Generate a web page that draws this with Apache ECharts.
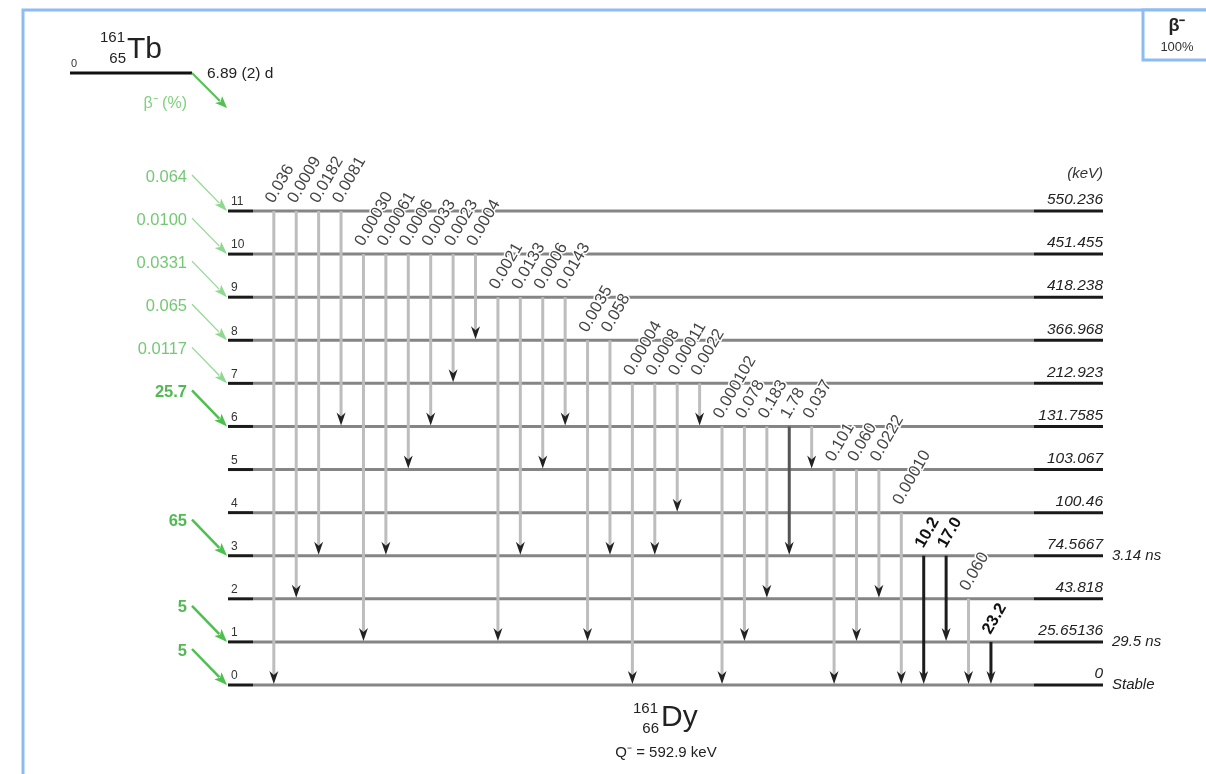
<!DOCTYPE html>
<html><head><meta charset="utf-8">
<script src="https://cdn.jsdelivr.net/npm/echarts@6/dist/echarts.min.js"></script>
<style>html,body{margin:0;padding:0;background:#fff}#c{width:1206px;height:774px}</style>
</head><body><div id="c"></div>
<script>
// ---- data ----
const levelEnergies = ['0','25.65136','43.818','74.5667','100.46','103.067','131.7585','212.923','366.968','418.238','451.455','550.236'];
const levelHalfLives = ['Stable','29.5 ns','','3.14 ns','','','','','','','',''];
const feedLevels = [11,10,9,8,7,6,3,1,0];
const feedIntensities = ['0.064','0.0100','0.0331','0.065','0.0117','25.7','65','5','5'];
const gammaFrom = [11,11,11,11,10,10,10,10,10,10,9,9,9,9,8,8,7,7,7,7,6,6,6,6,6,5,5,5,4,3,3,2,1];
const gammaTo   = [0,2,3,6,1,3,5,6,7,8,1,3,5,6,1,3,0,3,4,6,0,1,2,3,5,0,1,2,0,0,1,0,0];
const gammaIntensities = ['0.036','0.0009','0.0182','0.0081','0.00030','0.00061','0.0006','0.0033','0.0023','0.0004','0.0021','0.0133','0.0006','0.0143','0.0035','0.058','0.00004','0.0008','0.00011','0.0022','0.000102','0.078','0.183','1.78','0.037','0.101','0.060','0.0222','0.00010','10.2','17.0','0.060','23.2'];
const parentName = {A:'161', Z:'65', sym:'Tb', level:'0', halfLife:'6.89 (2) d'};
const daughterName = {A:'161', Z:'66', sym:'Dy', q:'Q⁻ = 592.9 keV'};

const FONT = '"Liberation Sans", Arial, sans-serif';
const X_MIN = -2, X_MAX = 37;
const ANG = 60 * Math.PI / 180;
const chart = echarts.init(document.getElementById('c'));

function levelItem(params, api) {
  const idx = api.value(0);
  const p0 = api.coord([X_MIN, idx]);
  const p1 = api.coord([X_MAX, idx]);
  const y = p0[1];
  return {type:'group', children:[
    {type:'line', shape:{x1:p0[0]+24, y1:y, x2:p1[0]-69, y2:y}, style:{stroke:'#858585', lineWidth:3}},
    {type:'line', shape:{x1:p0[0]-1, y1:y, x2:p0[0]+24, y2:y}, style:{stroke:'#1a1a1a', lineWidth:3}},
    {type:'line', shape:{x1:p1[0]-69, y1:y, x2:p1[0], y2:y}, style:{stroke:'#1a1a1a', lineWidth:3}},
    {type:'text', x:p0[0]+2, y:y-3, style:{text:String(idx), font:'12px '+FONT, fill:'#333', align:'left', verticalAlign:'bottom'}},
    {type:'text', x:p1[0], y:y-3, style:{text:levelEnergies[idx], font:'italic 15.5px '+FONT, fill:'#222', align:'right', verticalAlign:'bottom'}},
    {type:'text', x:p1[0]+9, y:y, style:{text:levelHalfLives[idx], font:'italic 15px '+FONT, fill:'#222', align:'left', verticalAlign:'middle'}}
  ]};
}

function gammaItem(params, api) {
  const i = api.value(0), f = api.value(1), t = api.value(2);
  const pf = api.coord([i, f]), pt = api.coord([i, t]);
  const x = pf[0];
  const v = parseFloat(gammaIntensities[i]);
  const strong = v >= 5, mid = v >= 1;
  const color = strong ? '#1c1c1c' : (mid ? '#555' : '#bdbdbd');
  const yt = pt[1] - 1;
  return {type:'group', children:[
    {type:'line', shape:{x1:x, y1:pf[1], x2:x, y2:yt-9}, style:{stroke:color, lineWidth:3}},
    {type:'polygon', shape:{points:[[x,yt],[x-4.5,yt-13],[x,yt-9],[x+4.5,yt-13]]}, style:{fill:'#222'}},
    {type:'text', x:x+3, y:pf[1]-5, rotation:ANG, z2:10,
      style:{text:gammaIntensities[i], font:(strong?'bold ':'')+'16.5px '+FONT, fill:strong?'#111':'#444',
        align:'left', verticalAlign:'bottom', stroke:'#fff', lineWidth:3}}
  ]};
}

function arrow(x1, y1, x2, y2, color, w, len, hw) {
  const dx = x2-x1, dy = y2-y1, L = Math.sqrt(dx*dx+dy*dy);
  const ux = dx/L, uy = dy/L, nx = -uy, ny = ux;
  const bx = x2-ux*len, by = y2-uy*len;
  return [
    {type:'line', shape:{x1:x1, y1:y1, x2:bx+ux*2, y2:by+uy*2}, style:{stroke:color, lineWidth:w}},
    {type:'polygon', shape:{points:[[x2,y2],[bx+nx*hw,by+ny*hw],[bx+ux*3,by+uy*3],[bx-nx*hw,by-ny*hw]]}, style:{fill:color}}
  ];
}

function feedItem(params, api) {
  const k = params.dataIndex;
  const lv = api.value(0);
  const p = api.coord([X_MIN, lv]);
  const ex = p[0]-2, ey = p[1];
  const sx = p[0]-37, sy = p[1]-36;
  const v = parseFloat(feedIntensities[k]);
  const strong = v >= 1;
  const color = strong ? '#4cc04c' : '#8fd88f';
  const ch = arrow(sx, sy, ex, ey, color, strong ? 2.5 : 1.2, 13, strong ? 5 : 4.5);
  ch.push({type:'text', x:sx-5, y:sy+2, style:{text:feedIntensities[k], font:(strong?'bold ':'')+'16.5px '+FONT,
    fill: strong ? '#52b852' : '#74c874', align:'right', verticalAlign:'middle'}});
  return {type:'group', children:ch};
}

const pArrow = arrow(192, 73, 227, 108, '#52c052', 2, 12, 5);

chart.setOption({
  animation:false,
  grid:{left:229, right:103, top:211, bottom:89},
  xAxis:{type:'value', min:X_MIN, max:X_MAX, show:false},
  yAxis:{type:'value', min:0, max:11, show:false},
  series:[
    {type:'custom', renderItem:levelItem, data:levelEnergies.map((e,i)=>[i]), z:1, silent:true},
    {type:'custom', renderItem:gammaItem, data:gammaFrom.map((f,i)=>[i, f, gammaTo[i]]), z:2, silent:true},
    {type:'custom', renderItem:feedItem, data:feedLevels.map(l=>[l]), z:3, silent:true}
  ],
  graphic:[
    {type:'rect', shape:{x:23, y:10, width:1400, height:1000}, style:{fill:'none', stroke:'#8cbcf2', lineWidth:3}},
    {type:'rect', shape:{x:1143, y:10, width:90, height:50}, style:{fill:'#fff', stroke:'#8cbcf2', lineWidth:3}},
    {type:'text', x:1177, y:26, style:{text:'β⁻', font:'bold 18px '+FONT, fill:'#222', align:'center', verticalAlign:'middle'}},
    {type:'text', x:1177, y:47, style:{text:'100%', font:'13px '+FONT, fill:'#333', align:'center', verticalAlign:'middle'}},
    {type:'text', x:1103, y:174, style:{text:'(keV)', font:'italic 15px '+FONT, fill:'#333', align:'right', verticalAlign:'middle'}},
    // parent
    {type:'line', shape:{x1:70, y1:73, x2:192, y2:73}, style:{stroke:'#111', lineWidth:3}},
    {type:'text', x:71, y:64, style:{text:parentName.level, font:'11px '+FONT, fill:'#333', align:'left', verticalAlign:'middle'}},
    {type:'text', x:125, y:38, style:{text:parentName.A, font:'15px '+FONT, fill:'#222', align:'right', verticalAlign:'middle'}},
    {type:'text', x:126, y:59, style:{text:parentName.Z, font:'15px '+FONT, fill:'#222', align:'right', verticalAlign:'middle'}},
    {type:'text', x:127, y:50, style:{text:parentName.sym, font:'30px '+FONT, fill:'#222', align:'left', verticalAlign:'middle'}},
    {type:'text', x:207, y:74, style:{text:parentName.halfLife, font:'15.5px '+FONT, fill:'#222', align:'left', verticalAlign:'middle'}},
    {type:'group', children:pArrow},
    {type:'text', x:187, y:104, style:{text:'β⁻ (%)', font:'16px '+FONT, fill:'#7fd07f', align:'right', verticalAlign:'middle'}},
    // daughter
    {type:'text', x:658, y:709, style:{text:daughterName.A, font:'15px '+FONT, fill:'#222', align:'right', verticalAlign:'middle'}},
    {type:'text', x:659, y:729, style:{text:daughterName.Z, font:'15px '+FONT, fill:'#222', align:'right', verticalAlign:'middle'}},
    {type:'text', x:661, y:718, style:{text:daughterName.sym, font:'30px '+FONT, fill:'#222', align:'left', verticalAlign:'middle'}},
    {type:'text', x:666, y:753, style:{text:daughterName.q, font:'15px '+FONT, fill:'#222', align:'center', verticalAlign:'middle'}}
  ]
});
</script></body></html>
